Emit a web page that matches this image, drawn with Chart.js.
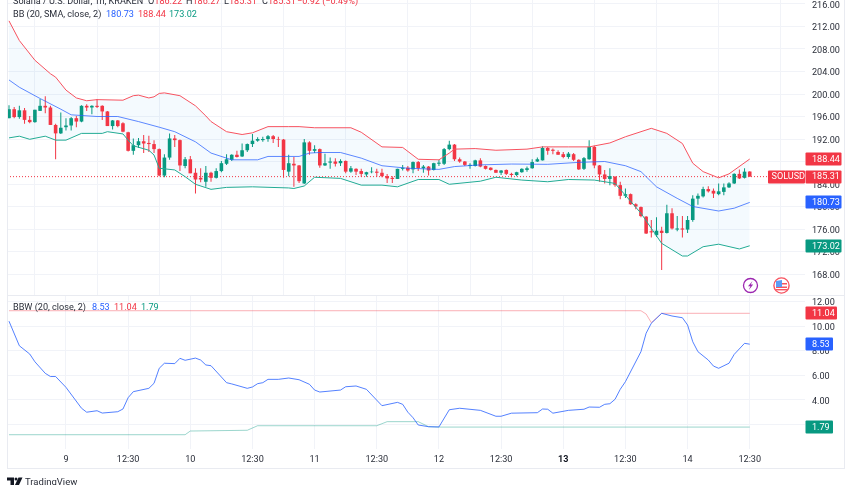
<!DOCTYPE html>
<html>
<head>
<meta charset="utf-8">
<title>SOLUSD 1h</title>
<script src="https://cdn.jsdelivr.net/npm/chart.js@4"></script>
<style>
  html, body { margin: 0; padding: 0; background: #fff; width: 852px; height: 485px; overflow: hidden; }
  canvas { position: absolute; left: 0; }
  #topChart { top: 0; }
  #bottomChart { top: 296px; }
  .rule { position: absolute; background: #e9ebf1; }
  .legend { position: absolute; font: 9.1px Roboto, sans-serif; color: #2a2e39; white-space: pre; line-height: 12px; }
  .up { color: #089981; } .down { color: #f23645; } .blue { color: #2962ff; }
  svg { position: absolute; left: 0; top: 0; }
</style>
</head>
<body>
<canvas id="topChart" width="852" height="296"></canvas>
<canvas id="bottomChart" width="852" height="189"></canvas>

<div class="rule" style="left:7px;top:0;width:1px;height:468px"></div>
<div class="rule" style="left:844px;top:0;width:1px;height:468px"></div>
<div class="rule" style="left:7px;top:295px;width:837px;height:1px"></div>
<div class="rule" style="left:7px;top:468px;width:838px;height:1px"></div>

<div class="legend" style="left:13px;top:-5px">Solana / U.S. Dollar, 1h, KRAKEN</div>
<div class="legend" style="left:148px;top:-5px">O<span class="down">186.22</span></div>
<div class="legend" style="left:186px;top:-5px">H<span class="down">186.27</span></div>
<div class="legend" style="left:224px;top:-5px">L<span class="down">185.31</span></div>
<div class="legend" style="left:262px;top:-5px">C<span class="down">185.31</span></div>
<div class="legend down" style="left:297px;top:-5px">−0.92 (−0.49%)</div>
<div class="legend" style="left:13px;top:8px">BB (20, SMA, close, 2)</div>
<div class="legend blue" style="left:106px;top:8px">180.73</div>
<div class="legend down" style="left:138px;top:8px">188.44</div>
<div class="legend up" style="left:169px;top:8px">173.02</div>
<div class="legend" style="left:13px;top:301px">BBW (20, close, 2)</div>
<div class="legend blue" style="left:92px;top:301px">8.53</div>
<div class="legend down" style="left:114px;top:301px">11.04</div>
<div class="legend up" style="left:141px;top:301px">1.79</div>
<div class="legend" style="left:25px;top:476px;font-size:9.5px">TradingView</div>

<svg width="852" height="485">
  <!-- lightning badge -->
  <circle cx="750.5" cy="285.5" r="7" fill="#fff" stroke="#9c27b0" stroke-width="1.3"/>
  <path d="M752.5 281 L748 286.2 L750.4 286.2 L748.8 290 L753.2 284.6 L750.8 284.6 Z" fill="#9c27b0"/>
  <!-- US flag badge -->
  <circle cx="781.5" cy="285.5" r="7.6" fill="#fff" stroke="#f7525f" stroke-width="1.4"/>
  <rect x="776" y="283" width="11" height="1.5" fill="#f7525f"/>
  <rect x="776" y="286.5" width="11" height="1.5" fill="#f7525f"/>
  <rect x="776" y="289" width="11" height="1.4" fill="#f7525f"/>
  <path d="M776 284 L776 281 L782 280 L782 287 L776 287 Z" fill="#5b9cf6"/>
  <!-- TradingView mark -->
  <path d="M7 477.5 H14 V485 H10.5 V480.5 H7 Z" fill="#131722"/>
  <circle cx="16" cy="479" r="1.5" fill="#131722"/>
  <path d="M18.5 477.5 H22.5 L19 485 H15 Z" fill="#131722"/>
</svg>

<script>
// candles (one per hour)
const opens = [195.7,197.3,195.9,197.1,195.4,195.0,197.0,197.9,197.6,194.5,193.0,194.1,194.4,195.7,195.1,197.9,197.6,197.9,197.9,196.9,194.3,195.3,194.8,193.2,189.9,190.9,191.6,191.3,191.1,190.2,185.5,188.7,192.1,191.8,187.2,188.4,186.0,185.1,184.4,186.0,185.1,186.3,187.6,188.3,189.2,188.9,190.0,191.1,191.7,191.8,192.0,192.5,192.0,191.9,186.2,187.6,187.3,184.1,191.4,189.9,190.2,187.3,187.8,188.0,187.7,188.1,186.2,186.7,186.3,185.7,186.1,186.2,186.0,185.4,185.1,184.9,186.7,186.9,186.6,187.9,186.8,187.1,186.5,187.6,187.6,190.2,191.0,188.4,188.0,187.2,187.2,188.2,187.2,186.9,186.5,186.0,186.5,185.8,185.6,186.1,186.5,186.8,188.0,188.2,190.4,190.1,189.7,189.3,188.8,189.3,188.3,186.7,188.4,190.6,187.3,185.7,184.9,185.3,183.8,181.9,182.2,180.4,179.9,178.2,175.6,174.9,175.7,175.3,178.8,175.9,176.1,175.9,177.6,181.4,181.8,183.1,182.8,182.2,182.6,183.4,184.1,185.8,185.1,186.22];
const highs = [198.0,197.7,197.9,197.5,196.1,197.2,199.1,199.6,197.9,194.7,196.7,195.7,195.9,196.1,198.0,198.2,198.0,199.1,198.0,197.0,195.4,195.4,195.0,193.3,192.1,192.2,192.7,192.6,191.8,190.3,189.3,193.0,192.7,191.9,188.8,189.0,186.8,186.8,187.2,186.2,186.8,188.1,189.3,189.3,189.9,191.2,191.2,192.9,192.3,192.4,192.7,192.7,192.4,192.0,189.2,188.8,187.4,192.0,191.6,190.9,190.3,189.4,188.7,188.6,188.4,188.2,187.2,186.8,186.7,186.2,187.0,186.7,186.7,185.8,185.4,186.7,187.4,187.2,188.0,188.1,187.4,187.2,187.8,188.3,190.4,191.7,191.1,188.7,188.1,187.7,188.3,188.6,187.3,187.0,186.6,186.5,186.6,186.0,186.2,186.8,187.1,188.4,188.7,190.7,190.6,190.3,190.0,189.7,189.7,189.5,188.4,188.8,191.8,190.8,187.4,186.5,186.8,185.4,184.4,183.2,182.3,180.6,180.0,178.3,177.6,178.1,176.4,180.3,179.7,178.3,178.3,178.3,182.0,182.3,183.5,183.6,183.2,184.1,184.1,184.3,185.9,186.6,186.8,186.27];
const lows = [195.7,195.7,195.6,194.7,194.8,194.9,197.0,196.6,194.5,188.4,192.9,193.5,193.5,194.1,195.0,197.0,196.4,197.5,195.4,194.3,193.7,194.1,193.2,189.8,189.2,190.4,189.5,189.7,189.5,185.4,185.2,188.3,190.6,186.3,186.8,185.9,182.3,184.3,183.5,184.4,185.0,186.1,187.4,188.1,188.7,188.8,189.7,190.6,191.5,191.5,191.5,191.3,190.6,185.1,185.4,183.5,184.2,184.0,189.2,189.5,186.9,187.2,186.7,187.1,187.2,185.9,186.0,185.6,185.3,185.3,185.9,185.3,185.2,184.2,184.2,184.9,186.4,186.2,185.9,186.3,186.0,185.5,186.4,187.2,187.4,190.0,188.1,187.8,187.2,186.7,187.1,187.0,186.6,186.4,186.0,185.6,185.6,185.2,185.4,186.0,186.2,186.7,187.9,188.2,189.2,189.3,189.2,188.6,188.5,188.1,186.5,186.5,188.3,186.8,184.4,184.1,183.8,183.5,181.3,181.5,180.3,179.5,178.1,175.1,174.5,174.6,168.7,175.2,175.9,175.6,174.5,175.3,177.3,180.3,181.6,182.5,181.5,182.0,182.0,183.3,184.0,184.9,185.0,185.31];
const closes = [197.3,195.9,197.1,195.4,195.0,197.2,197.9,197.6,194.5,193.0,194.0,194.4,195.7,195.1,197.9,197.6,197.9,197.7,196.9,194.3,195.3,194.3,193.3,189.9,190.9,191.6,191.2,191.1,190.2,185.5,188.7,192.1,191.8,187.3,188.4,185.9,184.8,184.8,186.0,185.1,186.3,187.7,188.4,189.2,188.8,190.0,191.1,191.7,192.0,192.0,192.5,192.0,191.9,186.5,187.7,187.3,184.5,191.4,189.9,190.2,187.3,187.7,188.0,187.6,188.1,186.2,186.8,186.2,185.8,186.1,186.2,186.0,185.4,185.0,184.9,186.7,186.9,186.4,187.9,186.8,187.1,186.4,187.7,187.8,190.2,191.0,188.4,188.0,187.4,187.4,188.2,187.1,186.7,186.5,186.0,186.4,185.8,185.6,186.1,186.7,186.8,187.9,188.4,190.4,189.9,189.9,189.2,188.8,189.4,188.3,186.6,188.6,190.6,187.3,185.7,184.9,185.4,183.8,181.9,182.2,180.4,180.0,178.3,175.2,175.4,175.7,175.3,178.8,176.1,176.1,175.9,177.6,181.4,181.9,183.1,182.7,182.3,182.7,183.4,184.1,185.8,185.0,186.2,185.31];

// Bollinger bands, read at the corners of each line
const upperAt = [0,2,5,8,9,11,13,15,17,22,24,25,27,28,29,30,33,36,38,39,42,45,47,50,54,56,59,66,68,72,76,79,83,85,86,90,94,100,103,108,112,116,119,124,127,130,132,134,137,139,143];
const upperBand = [213.0,209.5,206.0,203.6,203.0,200.7,199.3,198.8,199.0,198.9,199.7,199.8,199.3,199.5,200.1,200.2,199.7,197.9,196.1,195.1,193.3,192.8,193.1,194.2,194.2,194.2,194.0,194.0,193.2,190.6,190.5,188.4,188.3,189.5,190.2,190.3,190.0,190.2,190.6,190.6,190.6,191.3,192.4,193.9,193.0,191.2,187.7,186.2,185.1,185.8,188.44];
const basisAt = [0,2,6,10,12,17,21,25,29,32,36,39,43,48,50,56,58,60,64,68,72,77,83,86,91,97,104,110,115,119,122,125,129,132,137,140,143];
const basisBand = [202.5,201.2,199.2,197.3,196.3,196.0,196.0,195.1,194.1,193.3,191.5,189.5,188.3,188.3,188.9,188.9,189.5,189.6,189.6,188.6,187.25,186.8,186.6,187.1,187.4,187.55,187.5,187.85,188.0,187.25,186.2,183.5,181.45,180.0,179.2,179.7,180.73];
const lowerAt = [0,2,4,7,9,11,14,18,19,22,23,24,27,28,29,32,34,36,39,42,47,54,55,57,59,64,68,72,75,79,83,85,91,94,99,104,108,113,117,119,122,126,130,131,134,137,141,143];
const lowerBand = [192.2,192.5,191.95,192.5,191.8,191.8,193.0,193.0,193.3,192.9,191.8,190.8,190.0,189.15,186.8,186.5,185.3,183.95,183.05,183.4,183.5,183.3,183.2,183.65,185.2,185.0,183.8,183.8,183.5,184.8,184.8,183.95,184.5,185.2,184.7,184.4,184.8,184.7,184.1,182.0,178.8,173.45,171.2,171.2,172.85,173.3,172.45,173.02];

// BB width pane
const widthAt = [0,2,4,5,7,8,9,11,14,15,17,18,21,22,23,24,27,28,29,30,32,33,34,36,37,38,39,42,43,46,47,48,49,50,52,54,56,58,59,60,64,65,67,69,72,75,76,77,78,79,81,83,85,87,91,94,95,97,102,103,104,105,108,111,112,114,115,116,117,118,119,122,123,124,126,128,130,131,132,133,135,136,137,139,140,142,143];
const widthLine = [10.4,8.4,7.73,7.1,6.16,5.9,5.9,5.02,3.32,3.0,3.12,2.93,3.04,3.26,4.18,4.67,4.94,5.35,6.57,6.98,6.95,7.38,7.22,7.4,7.24,6.84,6.78,5.4,5.3,4.94,5.05,5.32,5.4,5.67,5.67,5.78,5.64,5.27,4.8,4.64,4.8,5.07,5.13,4.86,3.53,3.8,3.64,3.0,2.55,1.96,1.82,1.8,3.2,3.32,3.15,2.67,2.67,2.92,2.96,3.26,3.24,2.92,3.15,3.24,3.42,3.4,3.64,3.69,4.05,4.86,5.48,7.92,9.42,10.23,11.04,10.82,10.68,10.09,8.73,7.92,7.24,6.75,6.57,6.98,7.7,8.6,8.53];
const expansionAt = [0,122,123,124,126,143];
const expansionLine = [11.25,11.25,10.98,10.28,11.04,11.04];
const contractionAt = [0,34,35,46,48,71,73,79,81,83,143];
const contractionLine = [1.17,1.17,1.47,1.53,1.9,1.9,2.23,2.23,1.82,1.79,1.79];

// axes
const timeTicksAt = [11,23,35,47,59,71,83,95,107,119,131,143];
const timeLabels = ['9','12:30','10','12:30','11','12:30','12','12:30','13','12:30','14','12:30'];
const priceTicks = [168,172,176,180,184,188,192,196,200,204,208,212,216];
const widthTicks = [2,4,6,8,10,12];

const lastClose = closes[closes.length - 1];
const lastUpper = upperBand[upperBand.length - 1];
const lastBasis = basisBand[basisBand.length - 1];
const lastLower = lowerBand[lowerBand.length - 1];
const lastWidth = widthLine[widthLine.length - 1];
const lastExpansion = expansionLine[expansionLine.length - 1];
const lastContraction = contractionLine[contractionLine.length - 1];

const RED = '#f23645', GREEN = '#089981', BLUE = '#2962ff';
const FONT = 'Roboto, sans-serif';
const GRID = '#f1f3f8';
const X_MIN = -0.386, X_MAX = 153.67;

function pairs(at, vals) {
  return at.map((x, i) => ({ x: x, y: vals[i] }));
}

function lineSet(data, color, extra) {
  return Object.assign({ type: 'line', data: data, borderColor: color, borderWidth: 1, pointRadius: 0, tension: 0, order: 1 }, extra);
}

function xAxis(showLabels) {
  return {
    type: 'linear', offset: false, min: X_MIN, max: X_MAX,
    grid: { color: GRID, drawTicks: false },
    border: { display: false },
    afterBuildTicks: (s) => { s.ticks = timeTicksAt.map((v) => ({ value: v })); },
    afterFit: (s) => { s.height = showLabels ? 19 : 0; s.paddingLeft = 0; s.paddingRight = 0; },
    ticks: {
      display: showLabels, autoSkip: false, maxRotation: 0, padding: 5,
      color: (c) => (c.tick && c.tick.value === 107 ? '#131722' : '#2a2e39'),
      font: (c) => ({ family: FONT, size: 9.1, weight: c.tick && c.tick.value === 107 ? 'bold' : 'normal' }),
      callback: (v) => timeLabels[timeTicksAt.indexOf(v)]
    }
  };
}

function yAxis(tickList, min, max) {
  return {
    position: 'right', min: min, max: max,
    grid: { color: GRID, drawTicks: false },
    border: { display: false },
    afterBuildTicks: (s) => { s.ticks = tickList.map((v) => ({ value: v })); },
    // keep the pane height exact, tick labels may overhang it
    afterFit: (s) => { s.width = 39; s.paddingTop = 0; s.paddingBottom = 0; },
    ticks: {
      padding: 7, color: '#2a2e39', font: { family: FONT, size: 9.1 }, crossAlign: 'near', labelOffset: 1.5,
      callback: (v) => v.toFixed(2)
    }
  };
}

function drawTag(ctx, y, left, width, color, label, textX) {
  ctx.fillStyle = color;
  ctx.beginPath();
  ctx.roundRect(left, Math.round(y) - 6.5, width, 13, 1);
  ctx.fill();
  ctx.fillStyle = '#fff';
  ctx.font = '9.1px ' + FONT;
  ctx.textAlign = 'left';
  ctx.textBaseline = 'middle';
  ctx.fillText(label, textX, y + 0.5);
}

const priceTags = {
  id: 'priceTags',
  afterDraw(chart) {
    const y = chart.scales.y;
    const c = chart.ctx;
    drawTag(c, y.getPixelForValue(lastClose), 768, 37, RED, 'SOLUSD', 771.5);
    [[lastUpper, RED], [lastClose, RED], [lastBasis, BLUE], [lastLower, GREEN]].forEach((t) => {
      drawTag(c, y.getPixelForValue(t[0]), 805.5, 36, t[1], t[0].toFixed(2), 812);
    });
  }
};

const widthTags = {
  id: 'widthTags',
  afterDraw(chart) {
    const y = chart.scales.y;
    const c = chart.ctx;
    drawTag(c, y.getPixelForValue(lastExpansion), 805.5, 31.5, RED, lastExpansion.toFixed(2), 812);
    drawTag(c, y.getPixelForValue(lastWidth), 805.5, 27.5, BLUE, lastWidth.toFixed(2), 812);
    drawTag(c, y.getPixelForValue(lastContraction), 805.5, 27.5, GREEN, lastContraction.toFixed(2), 812);
  }
};

const baseOptions = {
  responsive: false, animation: false, events: [],
  plugins: { legend: { display: false }, tooltip: { enabled: false }, filler: { drawTime: 'beforeDatasetsDraw' } }
};

new Chart(document.getElementById('topChart'), {
  type: 'bar',
  plugins: [priceTags],
  data: {
    datasets: [
      lineSet(pairs(upperAt, upperBand), '#f7525f', { fill: 2, backgroundColor: 'rgba(33,150,243,0.05)' }),
      lineSet(pairs(basisAt, basisBand), BLUE, { borderColor: 'rgba(41,98,255,0.75)' }),
      lineSet(pairs(lowerAt, lowerBand), '#22ab94'),
      {
        data: lows.map((l, i) => ({ x: i, y: [l, highs[i]] })),
        backgroundColor: closes.map((c, i) => (c >= opens[i] ? GREEN : RED)),
        barThickness: 1, grouped: false, inflateAmount: 0, order: 3
      },
      {
        data: opens.map((o, i) => ({ x: i, y: [o, closes[i]] })),
        backgroundColor: closes.map((c, i) => (c >= opens[i] ? GREEN : RED)),
        barThickness: 3.6, grouped: false, inflateAmount: 0, order: 2
      },
      lineSet([{ x: X_MIN, y: lastClose }, { x: X_MAX, y: lastClose }], RED, { borderDash: [1, 2], order: 4 })
    ]
  },
  options: Object.assign({}, baseOptions, {
    layout: { autoPadding: false, padding: { left: 7, right: 8, top: 0, bottom: 1 } },
    scales: { x: xAxis(false), y: yAxis(priceTicks, 164.27, 216.71) }
  })
});

new Chart(document.getElementById('bottomChart'), {
  type: 'line',
  plugins: [widthTags],
  data: {
    datasets: [
      lineSet(pairs(expansionAt, expansionLine), 'rgba(242,54,69,0.4)', { order: 2 }),
      lineSet(pairs(contractionAt, contractionLine), 'rgba(8,153,129,0.4)', { order: 2 }),
      lineSet(pairs(widthAt, widthLine), 'rgba(41,98,255,0.8)')
    ]
  },
  options: Object.assign({}, baseOptions, {
    layout: { autoPadding: false, padding: { left: 7, right: 8, top: 0, bottom: 17 } },
    scales: { x: xAxis(true), y: yAxis(widthTicks, 0.008, 12.447) }
  })
});
</script>
</body>
</html>
